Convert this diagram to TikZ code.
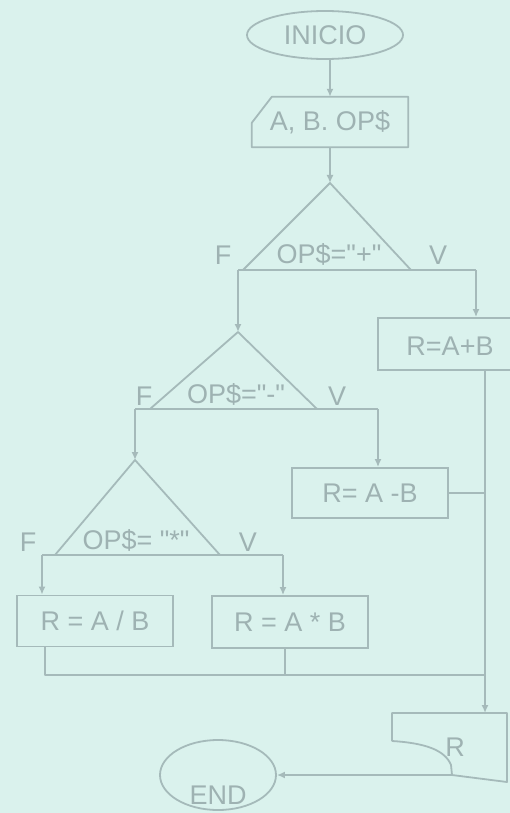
\documentclass[tikz,border=0pt]{standalone}
\usepackage{fontspec}
\setmainfont{Liberation Sans}
\usetikzlibrary{arrows.meta,shapes.geometric}
\definecolor{paper}{RGB}{218,242,237}
\definecolor{ink}{RGB}{165,186,186}
\definecolor{inktext}{RGB}{158,178,178}
\newcommand{\qq}{\textquotedbl}
\tikzset{
  flow/.style={draw=ink, line width=1.8pt, line join=round},
  arr/.style={flow, -{Latex[length=8pt,width=7pt]}},
  lbl/.style={text=inktext, font=\fontsize{27}{30}\selectfont, inner sep=0pt},
  term/.style={ellipse, draw=ink, line width=1.8pt, lbl, inner sep=0pt},
  proc/.style={rectangle, draw=ink, line width=1.8pt, lbl, inner sep=0pt},
  ghost/.style={rectangle, draw=none, lbl, inner sep=0pt},
}
\begin{document}
\begin{tikzpicture}[x=1pt,y=-1pt]
\fill[paper] (0,0) rectangle (510,813);
\useasboundingbox (0,0) rectangle (510,813);
\clip (0,0) rectangle (510,813);

% start and input
\node[term, minimum width=156pt, minimum height=48pt] (start) at (325,35) {INICIO};
\node[ghost, minimum width=156pt, minimum height=50pt] (in) at (330,122) {A, B. OP\$};
\draw[flow] ([yshift=-26pt]in.north west) -- ([xshift=20pt]in.north west)
  -- (in.north east) -- (in.south east) -- (in.south west) -- cycle;
\draw[arr] (in.north |- start.south) -- (in.north);

% first decision
\coordinate (d1) at (330,183);
\coordinate (d1l) at (243,270);
\coordinate (d1r) at (411,270);
\coordinate (d1F) at (238,270);
\coordinate (d1V) at (476,270);
\draw[arr] (in.south) -- (d1);
\draw[flow] (d1l) -- (d1) -- (d1r);
\draw[flow] (d1F) -- (d1V);
\node[lbl] (c1) at (329,254) {OP\$=\qq+\qq};
\node[lbl] (f1) at (223,255) {F};
\node[lbl] (v1) at (438,255) {V};

% sum
\node[proc, minimum width=150pt, minimum height=52pt] (sum) at (453,344) {};
\node[lbl] (sumt) at (450,346) {R=A+B};
\draw[arr] (d1V) -- (d1V |- sum.north);

% second decision
\coordinate (d2) at (238,332);
\coordinate (d2l) at (150,409);
\coordinate (d2r) at (317,409);
\coordinate (d2F) at (135,409);
\coordinate (d2V) at (378,409);
\draw[arr] (d1F) -- (d2);
\draw[flow] (d2l) -- (d2) -- (d2r);
\draw[flow] (d2F) -- (d2V);
\node[lbl] (c2) at (236,394) {OP\$=\qq-\qq};
\node[lbl] (f2) at (144,396) {F};
\node[lbl] (v2) at (337,396) {V};

% difference
\node[proc, minimum width=156pt, minimum height=50pt] (dif) at (370,493) {R= A -B};
\draw[arr] (d2V) -- (d2V |- dif.north);

% third decision
\coordinate (d3) at (135,460);
\coordinate (d3l) at (55,555);
\coordinate (d3r) at (220,555);
\coordinate (d3F) at (42,555);
\coordinate (d3V) at (283,555);
\draw[arr] (d2F) -- (d3);
\draw[flow] (d3l) -- (d3) -- (d3r);
\draw[flow] (d3F) -- (d3V);
\node[lbl] (c3) at (136,540) {OP\$= \qq*\qq};
\node[lbl] (f3) at (28,542) {F};
\node[lbl] (v3) at (248,542) {V};

% division and product
\node[proc, minimum width=156pt, minimum height=51pt] (divi) at (95,621) {R = A / B};
\node[proc, minimum width=156pt, minimum height=52pt] (prod) at (290,622) {R = A * B};
\draw[arr] (d3F) -- (d3F |- divi.north);
\draw[arr] (d3V) -- (d3V |- prod.north);

% output
\coordinate (otl) at (392,713);
\coordinate (otr) at (507,713);
\coordinate (obr) at (507,782);
\coordinate (obl) at (452,775);
\coordinate (olc) at (392,741);
\draw[flow] (olc) -- (otl) -- (otr) -- (obr) -- (obl) -- (451,765)
  .. controls (445,750) and (425,743) .. (olc);
\node[lbl] (outt) at (455,747) {R};

% merge lines
\coordinate (jx) at (485,675);
\coordinate (jl) at (45,675);
\coordinate (jp) at (285,675);
\coordinate (jd) at (485,493);
\draw[flow] (jx |- sum.south) -- (jx);
\draw[flow] (dif.east) -- (jd);
\draw[flow] (divi.south -| jl) -- (jl) -- (jx);
\draw[flow] (prod.south -| jp) -- (jp);
\draw[arr] (jx) -- (otl -| jx);

% end
\node[term, minimum width=116pt, minimum height=70pt] (end) at (218,775) {};
\node[lbl] (endt) at (218,795) {END};
\draw[arr] (obl) -- (end.east);
\end{tikzpicture}
\end{document}
